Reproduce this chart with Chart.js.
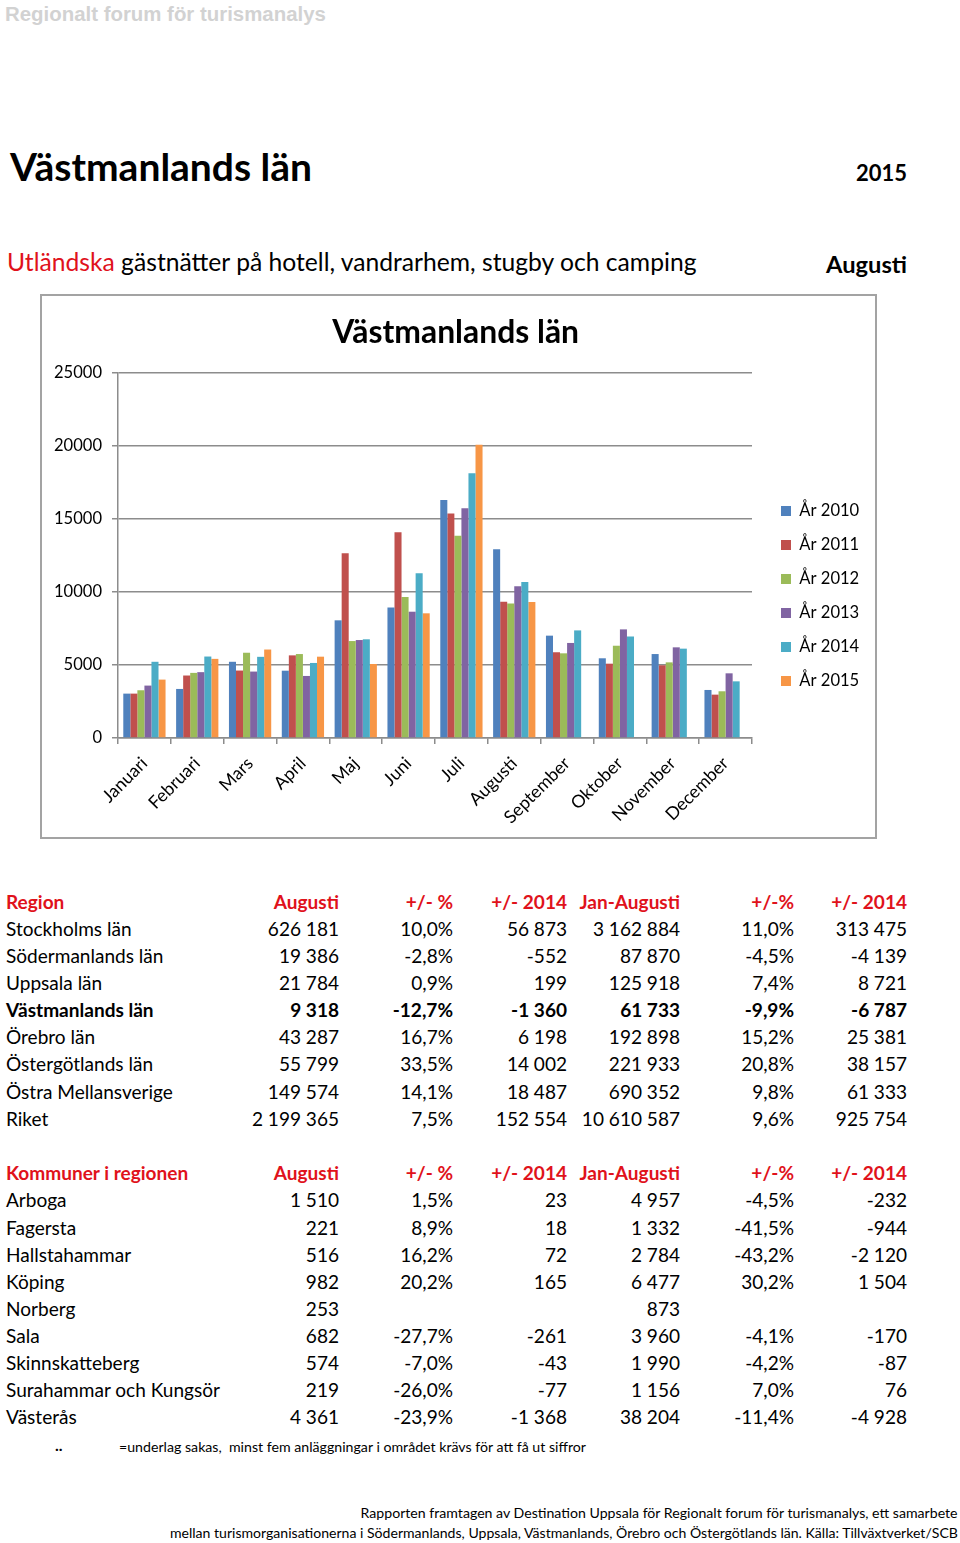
<!DOCTYPE html>
<html>
<head>
<meta charset="utf-8">
<script src="https://cdn.jsdelivr.net/npm/chart.js@4.4.1/dist/chart.umd.min.js"></script>
<style>
html,body{margin:0;padding:0;background:#fff;}
body{width:960px;height:1543px;position:relative;overflow:hidden;font-family:Lato,sans-serif;color:#000;}
#box{position:absolute;left:40px;top:294px;width:837px;height:545px;border:2px solid #a3a3a3;box-sizing:border-box;}
#c{position:absolute;left:0;top:0;}
</style>
</head>
<body>
<div id="box"><canvas id="c" width="833" height="541" style="width:833px;height:541px"></canvas></div>
<script>
// ---------- chart data ----------
const months = ['Januari','Februari','Mars','April','Maj','Juni','Juli','Augusti','September','Oktober','November','December'];
const seriesLabels = ['År 2010','År 2011','År 2012','År 2013','År 2014','År 2015'];
const y2010 = [3040, 3360, 5220, 4610, 8060, 8930, 16300, 12920, 7010, 5460, 5750, 3290];
const y2011 = [3040, 4280, 4620, 5660, 12650, 14090, 15370, 9340, 5870, 5090, 4980, 2970];
const y2012 = [3270, 4460, 5840, 5750, 6640, 9660, 13860, 9220, 5800, 6320, 5180, 3200];
const y2013 = [3590, 4510, 4550, 4250, 6710, 8650, 15730, 10390, 6510, 7440, 6210, 4430];
const y2014 = [5220, 5580, 5560, 5140, 6760, 11280, 18130, 10678, 7370, 6960, 6120, 3880];
const y2015 = [4000, 5420, 6060, 5570, 5070, 8540, 20090, 9318, null, null, null, null];
const seriesColors = ['#4F81BD','#C0504D','#9BBB59','#8064A2','#4BACC6','#F79646'];
const yTickLabels = ['0','5000','10000','15000','20000','25000'];
const chartTitle = 'Västmanlands län';

// ---------- table data ----------
const tableHead1 = ['Region','Augusti','+/- %','+/- 2014','Jan-Augusti','+/-%','+/- 2014'];
const regionNames = ['Stockholms län','Södermanlands län','Uppsala län','Västmanlands län','Örebro län','Östergötlands län','Östra Mellansverige','Riket'];
const regionAug   = ['626 181','19 386','21 784','9 318','43 287','55 799','149 574','2 199 365'];
const regionPct   = ['10,0%','-2,8%','0,9%','-12,7%','16,7%','33,5%','14,1%','7,5%'];
const regionDiff  = ['56 873','-552','199','-1 360','6 198','14 002','18 487','152 554'];
const regionYtd   = ['3 162 884','87 870','125 918','61 733','192 898','221 933','690 352','10 610 587'];
const regionYtdPct= ['11,0%','-4,5%','7,4%','-9,9%','15,2%','20,8%','9,8%','9,6%'];
const regionYtdDiff=['313 475','-4 139','8 721','-6 787','25 381','38 157','61 333','925 754'];
const regionBold  = [false,false,false,true,false,false,false,false];

const tableHead2 = ['Kommuner i regionen','Augusti','+/- %','+/- 2014','Jan-Augusti','+/-%','+/- 2014'];
const munNames = ['Arboga','Fagersta','Hallstahammar','Köping','Norberg','Sala','Skinnskatteberg','Surahammar och Kungsör','Västerås'];
const munAug   = ['1 510','221','516','982','253','682','574','219','4 361'];
const munPct   = ['1,5%','8,9%','16,2%','20,2%','','-27,7%','-7,0%','-26,0%','-23,9%'];
const munDiff  = ['23','18','72','165','','-261','-43','-77','-1 368'];
const munYtd   = ['4 957','1 332','2 784','6 477','873','3 960','1 990','1 156','38 204'];
const munYtdPct= ['-4,5%','-41,5%','-43,2%','30,2%','','-4,1%','-4,2%','7,0%','-11,4%'];
const munYtdDiff=['-232','-944','-2 120','1 504','','-170','-87','76','-4 928'];

// ---------- helpers ----------
const RED = '#e0121b';
const CAPC = {'Lato':0.529, 'Liberation Sans':0.489};
const mctx = document.createElement('canvas').getContext('2d');
function mw(font, txt){ mctx.font = font; return mctx.measureText(txt).width; }

function put(txt, x, cy, o){
  const fam = o.family || 'Lato';
  const d = document.createElement('div');
  d.style.cssText = 'position:absolute;white-space:pre;line-height:1;';
  d.style.fontFamily = "'" + fam + "'";
  d.style.fontWeight = o.bold ? '700' : '400';
  d.style.color = o.color || '#000';
  let fs = o.size;
  d.style.fontSize = fs + 'px';
  if (o.html) d.innerHTML = txt; else d.textContent = txt;
  document.body.appendChild(d);
  if (o.fit){ const w = d.getBoundingClientRect().width; fs = fs * o.fit / w; d.style.fontSize = fs + 'px'; }
  let sx = 1;
  if (o.fitX){ const w = d.getBoundingClientRect().width; sx = o.fitX / w; }
  d.style.top = (cy - CAPC[fam] * fs) + 'px';
  if (o.align === 'right'){ d.style.right = (960 - x) + 'px'; d.style.transformOrigin = 'right center'; }
  else { d.style.left = x + 'px'; d.style.transformOrigin = 'left center'; }
  if (sx !== 1) d.style.transform = 'scaleX(' + sx + ')';
  return fs;
}

// ---------- header texts ----------
put('Regionalt forum för turismanalys', 5, 13.5, {family:'Liberation Sans', bold:true, size:20, color:'#d2d2d2', fit:321});
put('Västmanlands län', 10, 168, {bold:true, size:36, fit:302});
put('2015', 907, 173.5, {bold:true, size:23, fit:51, align:'right'});
put('<span style="color:' + RED + '">Utländska</span> gästnätter på hotell, vandrarhem, stugby och camping', 7, 263.5, {size:22, fit:690, html:true});
put('Augusti', 907, 265.5, {bold:true, size:23, fit:81, align:'right'});

// ---------- tables ----------
const colRight = [339, 453, 567, 680, 794, 907];
const tblSize = 20 * 125.7 / mw('20px Lato', 'Stockholms län');
function row(cells, cy, bold, color){
  put(cells[0], 6, cy, {size:tblSize, bold:bold, color:color});
  for (let i = 1; i < cells.length; i++){
    if (cells[i] !== '') put(cells[i], colRight[i-1], cy, {size:tblSize, bold:bold, color:color, align:'right'});
  }
}
const step = 27.1;
row(tableHead1, 902, true, RED);
regionNames.forEach((n, i) => row([n, regionAug[i], regionPct[i], regionDiff[i], regionYtd[i], regionYtdPct[i], regionYtdDiff[i]], 929 + step*i, regionBold[i], '#000'));
row(tableHead2, 1173.5, true, RED);
munNames.forEach((n, i) => row([n, munAug[i], munPct[i], munDiff[i], munYtd[i], munYtdPct[i], munYtdDiff[i]], 1200.5 + step*i, false, '#000'));

put('..', 55, 1445, {size:16, bold:true});
put('=underlag sakas,  minst fem anläggningar i området krävs för att få ut siffror', 119, 1447, {size:14, fitX:467});
put('Rapporten framtagen av Destination Uppsala för Regionalt forum för turismanalys, ett samarbete', 958, 1513, {size:14, fitX:597, align:'right'});
put('mellan turismorganisationerna i Södermanlands, Uppsala, Västmanlands, Örebro och Östergötlands län. Källa: Tillväxtverket/SCB', 958, 1533, {size:14, fitX:788, align:'right'});

// ---------- chart ----------
const W = 833, H = 541;
const plotLeft = 118 - 42, plotRight = 752 - 42, plotTop = 373 - 296, plotBottom = 738 - 296;
const titleSize = 28 * 247 / mw('bold 28px Lato', chartTitle);
const tickSize = 16 * 48 / mw('16px Lato', '25000');
const xTickSize = tickSize * 1.07;
const legSize = 17 * 60 / mw('17px Lato', 'År 2010');
const legPad = 34 - legSize;
const legBox = 10;
const legTextW = Math.max(...seriesLabels.map(s => mw(legSize + 'px Lato', s)));
const legWidth = legPad + legBox + legSize/2 + legTextW + 10;
const legLeft = (781 - 42) - legPad;
const padRight = Math.max(0, W - legLeft - legWidth);
const firstCenter = 511 - 296;
const yStart = firstCenter - legSize/2;
const legTitleH = 2*yStart + 6*34 - H - legPad;
const titleMid = 332.5 - 296;
const titlePadTop = titleMid - 0.6*titleSize;
const titlePadBottom = plotTop - titlePadTop - 1.2*titleSize;

const datasets = [y2010, y2011, y2012, y2013, y2014, y2015].map((d, i) => ({
  label: seriesLabels[i], data: d, backgroundColor: seriesColors[i], borderWidth: 0,
  categoryPercentage: 0.8, barPercentage: 1.0, yAxisID: 'y'
}));

Chart.defaults.font.family = 'Lato';
new Chart(document.getElementById('c'), {
  type: 'bar',
  data: { labels: months, datasets: datasets },
  options: {
    responsive: false, animation: false, devicePixelRatio: 1,
    layout: { padding: { left: 0, right: padRight, top: 0, bottom: 0 } },
    plugins: {
      title: { display: true, text: chartTitle, color: '#000',
        font: { family: 'Lato', size: titleSize, weight: 'bold' }, padding: { top: titlePadTop, bottom: titlePadBottom } },
      legend: { position: 'right', align: 'center',
        title: { display: true, text: ' ', font: { size: 1 }, padding: { top: 0, bottom: Math.max(0, legTitleH - 1.2) } },
        labels: { boxWidth: legBox, boxHeight: legBox, padding: legPad, color: '#000', font: { family: 'Lato', size: legSize } } },
      tooltip: { enabled: false }
    },
    scales: {
      x: {
        grid: { display: true, drawOnChartArea: false, drawTicks: true, tickLength: 6, color: '#8c8c8c', lineWidth: 1.5, offset: true },
        border: { color: '#8c8c8c', width: 1.5 },
        ticks: { maxRotation: 45, minRotation: 45, autoSkip: false, color: '#000', padding: 9, font: { family: 'Lato', size: xTickSize } },
        afterFit(s) { s.height = H - plotBottom; }
      },
      y: {
        min: 0, max: 25000,
        ticks: { stepSize: 5000, color: '#000', padding: 10, font: { family: 'Lato', size: tickSize },
          callback: (v, i) => yTickLabels[i] },
        grid: { color: '#8c8c8c', lineWidth: 1.5, tickLength: 6 },
        border: { color: '#8c8c8c', width: 1.5 },
        afterFit(s) { s.width = plotLeft; }
      },
      y2: {
        position: 'right', display: true,
        grid: { display: false }, ticks: { display: false }, border: { display: false },
        afterFit(s) { s.width = legLeft - plotRight; }
      }
    }
  }
});
</script>
</body>
</html>
